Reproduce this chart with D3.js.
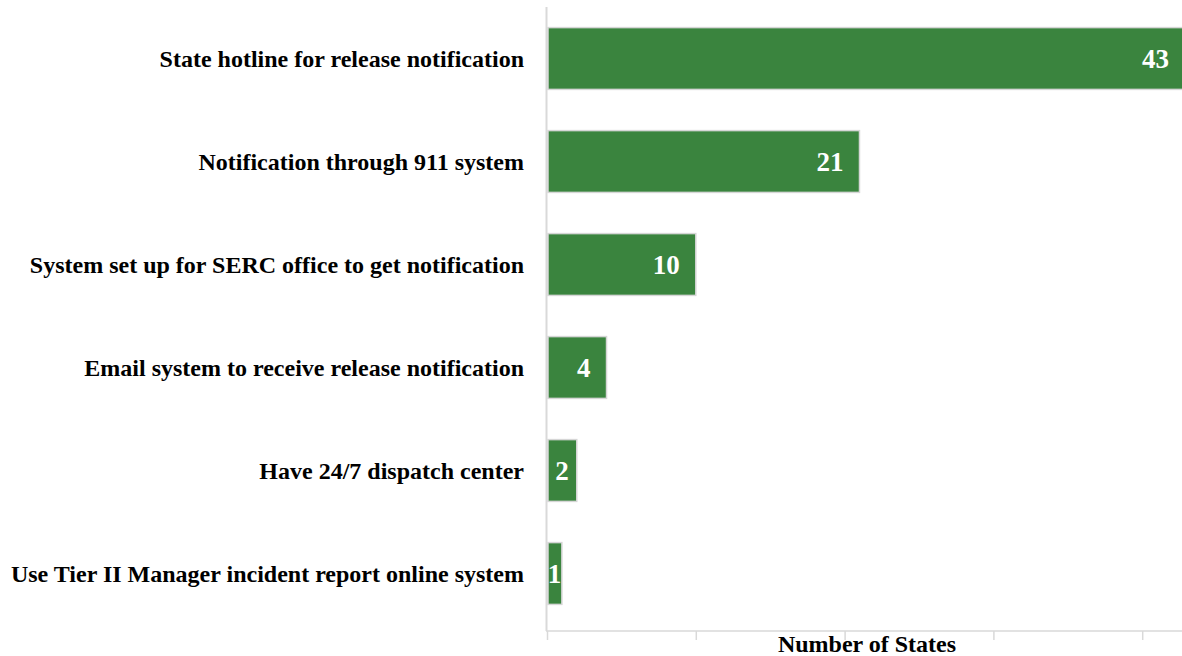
<!DOCTYPE html>
<html><head><meta charset="utf-8">
<script src="https://cdn.jsdelivr.net/npm/d3@7"></script>
<style>html,body{margin:0;padding:0;background:#fff;}</style>
</head><body>
<script>
const categories = [
  "State hotline for release notification",
  "Notification through 911 system",
  "System set up for SERC office to get notification",
  "Email system to receive release notification",
  "Have 24/7 dispatch center",
  "Use Tier II Manager incident report online system"
];
const values = [43, 21, 10, 4, 2, 1];
const tickValues = [0, 10, 20, 30, 40];
const axisTitle = "Number of States";

const W = 1182, H = 656;
const svg = d3.select("body").append("svg").attr("width", W).attr("height", H);
const font = "'Liberation Serif','Times New Roman',serif";

const x = d3.scaleLinear().domain([0, 50]).range([547, 547 + 50 * 14.88]);
const y = d3.scaleBand().domain(categories).range([7, 625]).paddingInner(0.4).paddingOuter(0.2);

svg.append("defs").append("clipPath").attr("id", "clip")
  .append("rect").attr("x", 0).attr("y", 0).attr("width", W).attr("height", H);

// x axis
const xAxis = d3.axisBottom(x).tickValues(tickValues).tickSize(9).tickFormat("");
const gx = svg.append("g").attr("transform", "translate(0,631)").call(xAxis);
gx.select(".domain").remove();
gx.selectAll(".tick line").attr("stroke", "#d9d9d9").attr("stroke-width", 1.5);
svg.append("line").attr("x1", 546).attr("x2", W).attr("y1", 631).attr("y2", 631)
  .attr("stroke", "#d9d9d9").attr("stroke-width", 1.5);

// y axis line
svg.append("line").attr("x1", 546.5).attr("x2", 546.5).attr("y1", 7).attr("y2", 631)
  .attr("stroke", "#d9d9d9").attr("stroke-width", 2);

// bars
const g = svg.append("g").attr("clip-path", "url(#clip)");
g.selectAll("rect.bar").data(values).join("rect").attr("class", "bar")
  .attr("x", x(0) + 1)
  .attr("y", (d, i) => y(categories[i]))
  .attr("width", d => x(d) - x(0) - 1)
  .attr("height", y.bandwidth())
  .attr("fill", "#3a843e")
  .attr("stroke", "#d6d6d6")
  .attr("stroke-width", 1.5);

// value labels
const lbl = svg.selectAll("text.val").data(values).join("text").attr("class", "val")
  .attr("y", (d, i) => y(categories[i]) + y.bandwidth() / 2)
  .attr("dy", "0.35em")
  .attr("text-anchor", "end")
  .attr("fill", "#fff")
  .attr("font-family", font).attr("font-weight", "bold").attr("font-size", 27)
  .text(d => d);
lbl.each(function(d) {
  const tw = this.getComputedTextLength();
  const bw = x(d) - x(0);
  const pad = Math.min(16, (bw - tw) / 2);
  d3.select(this).attr("x", Math.min(x(d), W + 3) - pad);
});

// category labels
svg.selectAll("text.cat").data(categories).join("text").attr("class", "cat")
  .attr("x", 524)
  .attr("y", d => y(d) + y.bandwidth() / 2)
  .attr("dy", "0.35em")
  .attr("text-anchor", "end")
  .attr("fill", "#000")
  .attr("font-family", font).attr("font-weight", "bold").attr("font-size", 24)
  .text(d => d);

// axis title
svg.append("text").attr("x", 867).attr("y", 652).attr("text-anchor", "middle")
  .attr("font-family", font).attr("font-weight", "bold").attr("font-size", 24)
  .attr("fill", "#000").text(axisTitle);
</script>
</body></html>
